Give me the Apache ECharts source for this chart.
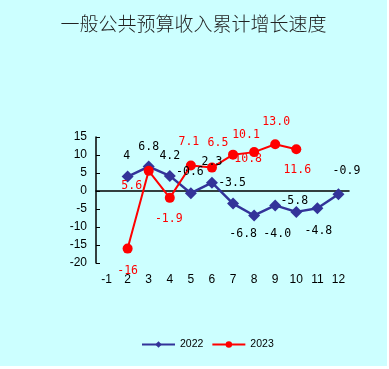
<!DOCTYPE html>
<html>
<head>
<meta charset="utf-8">
<script src="https://cdn.jsdelivr.net/npm/echarts@6/dist/echarts.min.js"></script>
<style>
html,body{margin:0;padding:0;background:#fff;}
#c{width:387px;height:366px;background:#CCFFFF;}
</style>
</head>
<body>
<div id="c"></div>
<script>
var categories = ['-1','2','3','4','5','6','7','8','9','10','11','12'];
var values2022 = [null, 4, 6.8, 4.2, -0.6, 2.3, -3.5, -6.8, -4.0, -5.8, -4.8, -0.9];
var values2023 = [null, -16, 5.6, -1.9, 7.1, 6.5, 10.1, 10.8, 13.0, 11.6, null, null];
var labels2022 = [null, '4', '6.8', '4.2', '-0.6', '2.3', '-3.5', '-6.8', '-4.0', '-5.8', '-4.8', '-0.9'];
var labels2023 = [null, '-16', '5.6', '-1.9', '7.1', '6.5', '10.1', '10.8', '13.0', '11.6', null, null];
var yTicks = {min: -20, max: 15, interval: 5};

// label placement (offsets from point centre), styling only
var off2022 = [null, [-1,-21],[0,-20],[0,-20],[-1,-21],[0,-21],[-1,-21],[-11,19],[2,29],[-2,-11],[1,23],[8,-23]];
var off2023 = [null, [0,22],[-17,15],[-1,21],[-2,-23],[6,-25],[13,-20],[-6,7],[1,-22],[1,21],null,null];

function build(vals, labs, offs, color) {
  return vals.map(function (v, i) {
    if (v === null) return null;
    return {
      value: v,
      label: {
        show: true,
        position: 'inside',
        offset: offs[i],
        formatter: labs[i],
        color: color,
        fontFamily: 'DejaVu Sans Mono',
        fontSize: 11.5
      }
    };
  });
}

var chart = echarts.init(document.getElementById('c'), null, {renderer: 'canvas'});
chart.setOption({
  backgroundColor: '#CCFFFF',
  animation: false,
  title: {
    text: '一般公共预算收入累计增长速度',
    left: 'center',
    top: 9,
    textStyle: {fontFamily: 'Noto Sans CJK SC', fontWeight: 300, fontSize: 19, color: '#222'}
  },
  legend: {
    bottom: 11,
    left: 136,
    itemWidth: 33,
    itemHeight: 8,
    itemGap: 8,
    textStyle: {fontFamily: 'Liberation Sans', fontSize: 10.5, color: '#000'},
    data: ['2022', '2023']
  },
  grid: {left: 96, right: 38, top: 137, bottom: 103},
  xAxis: {
    type: 'category',
    data: categories,
    boundaryGap: true,
    axisLine: {onZero: true, lineStyle: {color: '#000', width: 1.5}},
    axisTick: {inside: true, length: 5, lineStyle: {color: '#000'}},
    axisLabel: {margin: 11, color: '#000', fontFamily: 'Liberation Sans', fontSize: 12, interval: 0},
    splitLine: {show: false}
  },
  yAxis: {
    type: 'value',
    min: yTicks.min,
    max: yTicks.max,
    interval: yTicks.interval,
    axisLine: {show: true, lineStyle: {color: '#000', width: 1.5}},
    axisTick: {show: true, inside: true, length: 4, lineStyle: {color: '#000'}},
    axisLabel: {margin: 9, color: '#000', fontFamily: 'Liberation Sans', fontSize: 12},
    splitLine: {show: false}
  },
  series: [
    {
      name: '2022',
      type: 'line',
      data: build(values2022, labels2022, off2022, '#000'),
      symbol: 'diamond',
      symbolSize: 12,
      itemStyle: {color: '#333399'},
      lineStyle: {color: '#333399', width: 2.5}
    },
    {
      name: '2023',
      type: 'line',
      data: build(values2023, labels2023, off2023, '#FF0000'),
      symbol: 'circle',
      symbolSize: 10,
      itemStyle: {color: '#FF0000'},
      lineStyle: {color: '#FF0000', width: 2}
    }
  ]
});
</script>
</body>
</html>
